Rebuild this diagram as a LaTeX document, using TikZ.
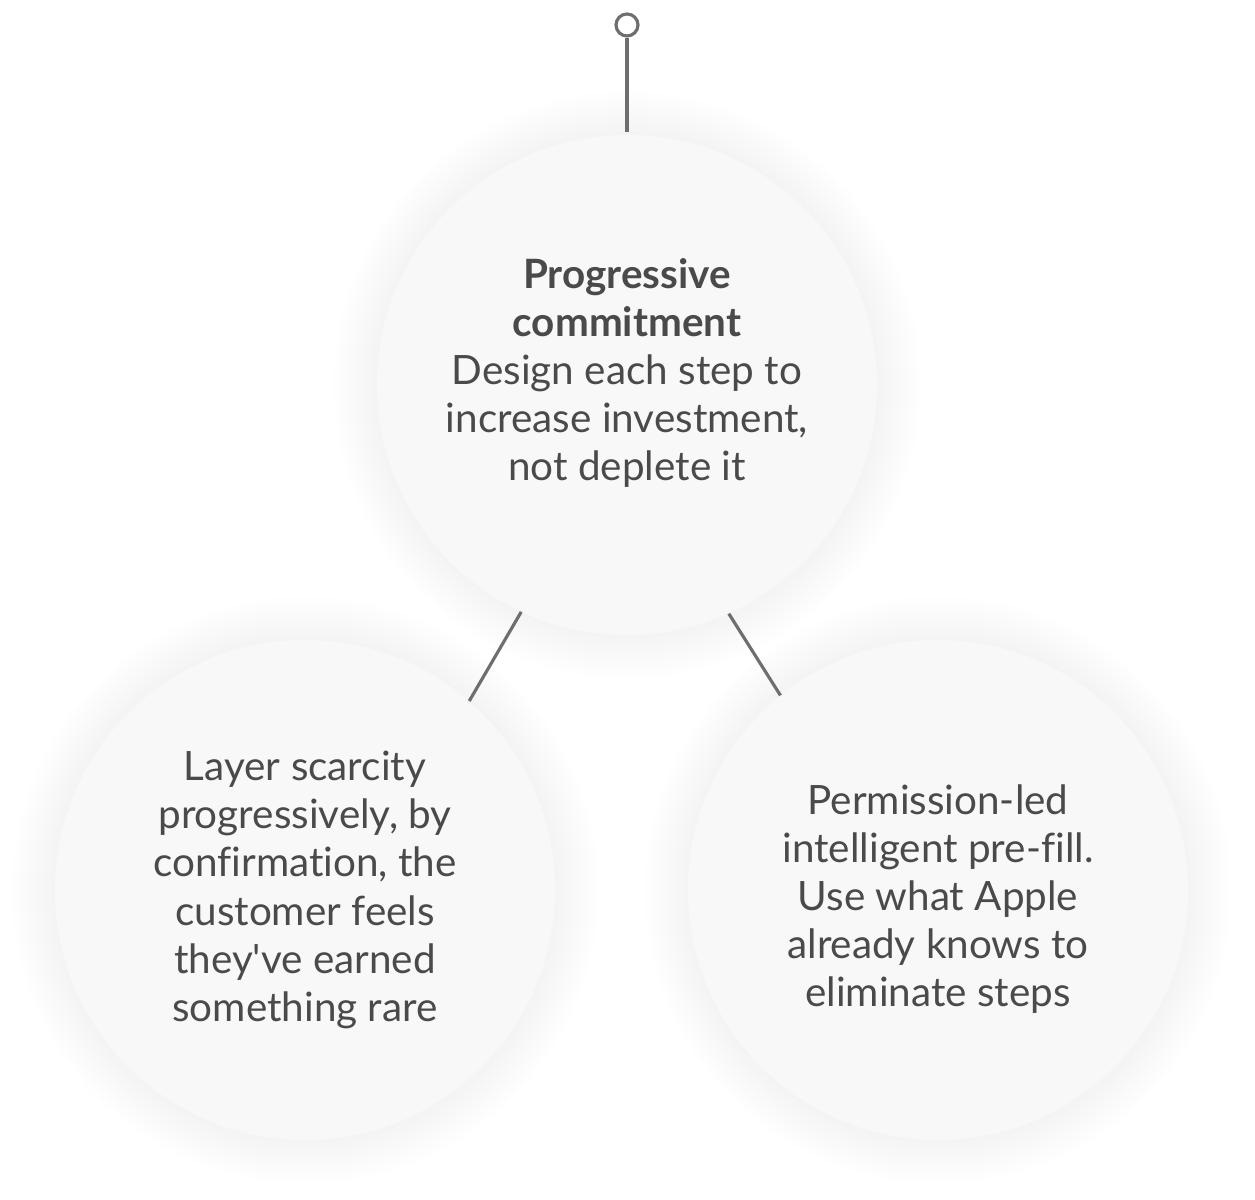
\documentclass[tikz,border=0pt]{standalone}
\usepackage{fontspec}
\setmainfont{Lato}[Ligatures={NoCommon,TeXOff}]
\usepackage{tikz}
\usetikzlibrary{positioning}

\definecolor{bubblefill}{RGB}{248,248,248}
\definecolor{bubbletext}{RGB}{74,74,74}
\definecolor{stemgray}{RGB}{110,110,110}

\begin{document}
\begin{tikzpicture}[
    bubble/.style={circle, minimum size=10cm, inner sep=0pt, fill=bubblefill},
    blurb/.style={align=center, text=bubbletext, font=\fontsize{23}{27.4}\selectfont},
    stem/.style={draw=stemgray, line width=1.8pt},
]
    \useasboundingbox (0,0) rectangle (25.1,24);
    % Centres
    \coordinate (topc) at (12.54,16.3);
    \coordinate (leftc) at (6.1,6.2);
    \coordinate (rightc) at (18.76,6.2);
    % Soft shadows
    \foreach \c in {topc,leftc,rightc}
        \foreach \i in {1,...,12}
            \fill[black, opacity=0.0035] (\c) circle ({5cm+0.96cm-\i*0.08cm});
    % Nodes
    \node[bubble] (commit) at (topc) {};
    \node[bubble] (scarcity) at (leftc) {};
    \node[bubble] (prefill) at (rightc) {};
    \node[blurb] (committext) at ([yshift=0.24cm]commit.center) {\textbf{Progressive}\\\textbf{commitment}\\Design each step to\\increase investment,\\not deplete it};
    \node[blurb] (scarcitytext) at (scarcity.center) {Layer scarcity\\progressively, by\\confirmation, the\\customer feels\\they've earned\\something rare};
    \node[blurb] (prefilltext) at ([yshift=-0.18cm]prefill.center) {Permission-led\\intelligent pre-fill.\\Use what Apple\\already knows to\\eliminate steps};
    \node[circle, draw=stemgray, line width=1.8pt, minimum size=0.44cm, inner sep=0pt] (pin) at (12.54,23.5) {};
    % Lines
    \draw[stem] (pin.south) -- ([yshift=0.06cm]commit.north);
    \draw[stem] (commit.245) -- (scarcity.49);
    \draw[stem] (commit.294) -- (prefill.129);
\end{tikzpicture}
\end{document}
